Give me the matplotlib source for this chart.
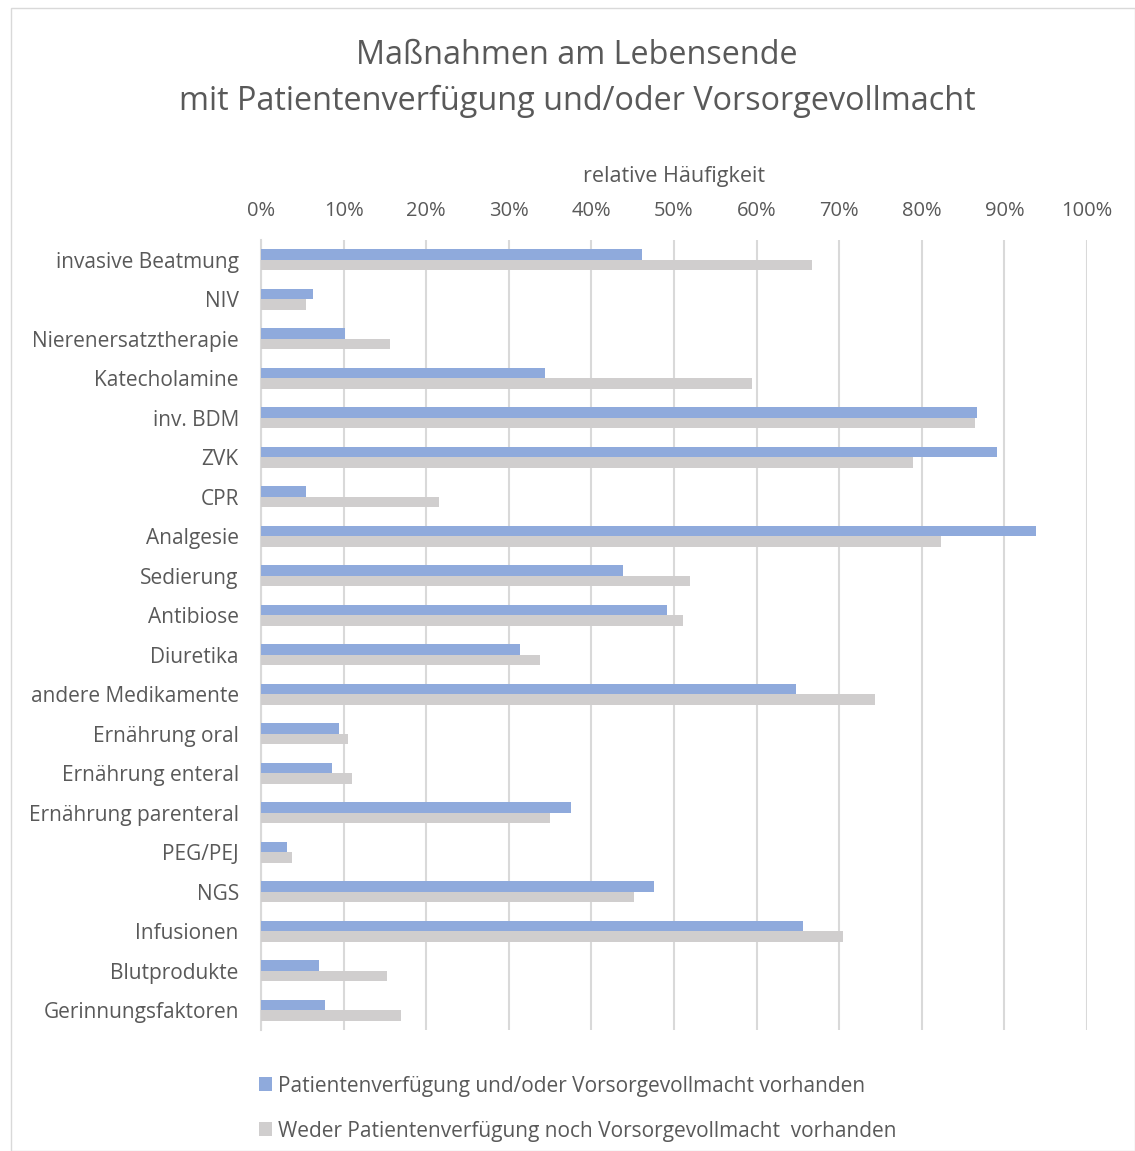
import matplotlib
matplotlib.use("Agg")
import matplotlib.pyplot as plt
import numpy as np
from matplotlib.patches import Rectangle

# ── data (relative frequency in %) ──
categories = [
    "invasive Beatmung", "NIV", "Nierenersatztherapie", "Katecholamine",
    "inv. BDM", "ZVK", "CPR", "Analgesie", "Sedierung", "Antibiose",
    "Diuretika", "andere Medikamente", "Ernährung oral", "Ernährung enteral",
    "Ernährung parenteral", "PEG/PEJ", "NGS", "Infusionen", "Blutprodukte",
    "Gerinnungsfaktoren",
]
mit_pv = [46.1, 6.3, 10.2, 34.4, 86.7, 89.1, 5.5, 93.8, 43.8, 49.2,
          31.3, 64.8, 9.4, 8.6, 37.5, 3.1, 47.6, 65.6, 7.0, 7.8]
ohne_pv = [66.7, 5.5, 15.6, 59.4, 86.4, 78.9, 21.5, 82.3, 51.9, 51.1,
           33.8, 74.3, 10.5, 11.0, 35.0, 3.8, 45.1, 70.5, 15.2, 16.9]
series_labels = [
    "Patientenverfügung und/oder Vorsorgevollmacht vorhanden",
    "Weder Patientenverfügung noch Vorsorgevollmacht  vorhanden",
]
xticks = list(range(0, 101, 10))

BLUE = "#8FAADC"
GREY = "#D0CECE"
TXT = "#595959"
GRID = "#D9D9D9"

plt.rcParams['font.family'] = ['Open Sans', 'DejaVu Sans']

W, H = 1135, 1151
fig = plt.figure(figsize=(W / 100, H / 100), dpi=100)

# outer chart border
fig.patches.append(Rectangle((11 / W, 0), (W - 11) / W, (H - 8) / H,
                             transform=fig.transFigure, fill=False,
                             edgecolor=GRID, linewidth=1))

ax = fig.add_axes([261 / W, (H - 1030) / H, (1087 - 261) / W, (1030 - 240) / H])

y = np.arange(len(categories))
bh = 0.27
ax.barh(y - bh / 2, mit_pv, height=bh, color=BLUE, label=series_labels[0], zorder=3)
ax.barh(y + bh / 2, ohne_pv, height=bh, color=GREY, label=series_labels[1], zorder=3)

ax.set_ylim(len(categories) - 0.5, -0.5)
ax.set_xlim(0, 100)
ax.set_yticks(y)
ax.set_yticklabels(categories, fontsize=15, color=TXT)
ax.set_xticks(xticks)
ax.set_xticklabels([f"{t}%" for t in xticks], fontsize=14.5, color=TXT)
ax.xaxis.tick_top()
ax.xaxis.set_label_position("top")
ax.set_xlabel("relative Häufigkeit", fontsize=15.5, color=TXT, labelpad=14)
ax.tick_params(axis="x", length=0, pad=13.5)
ax.tick_params(axis="y", length=0, pad=16)
ax.grid(axis="x", color=GRID, linewidth=1.5, zorder=0)
for s in ["top", "right", "bottom"]:
    ax.spines[s].set_visible(False)
ax.spines["left"].set_color(GRID)
ax.spines["left"].set_linewidth(1.5)

fig.text(577 / W, 1 - 55 / H, "Maßnahmen am Lebensende", ha="center", va="center",
         fontsize=23.3, color=TXT)
fig.text(577 / W, 1 - 101 / H, "mit Patientenverfügung und/oder Vorsorgevollmacht",
         ha="center", va="center", fontsize=23.3, color=TXT)

leg = fig.legend(loc="upper left", bbox_to_anchor=(240 / W, 1 - 1057 / H),
                 frameon=False, fontsize=15, labelcolor=TXT, handlelength=0.65,
                 handleheight=0.65, handletextpad=0.25, labelspacing=1.15)

fig.savefig("out.png", dpi=100)
